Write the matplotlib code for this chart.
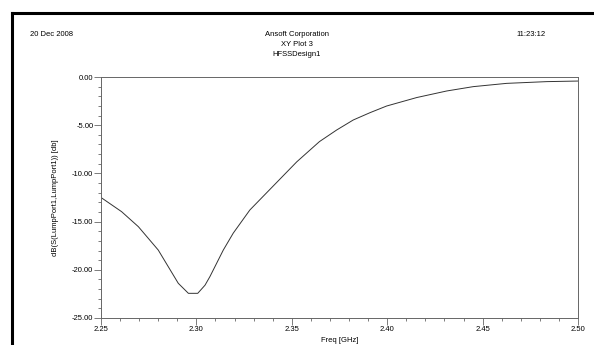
import numpy as np
import matplotlib.pyplot as plt
from matplotlib.ticker import MultipleLocator, FormatStrFormatter
from matplotlib.lines import Line2D

# S11
freq = [2.250, 2.2608, 2.2696, 2.280, 2.2905, 2.2958, 2.3007, 2.3045, 2.3071,
        2.3141, 2.3193, 2.328, 2.3403, 2.3526, 2.3645, 2.3735, 2.3822, 2.391,
        2.3997, 2.4155, 2.4312, 2.4451, 2.4626, 2.4836, 2.500]
s11_db = [-12.5, -13.97, -15.53, -17.95, -21.4, -22.44, -22.44, -21.6, -20.7,
          -17.95, -16.2, -13.8, -11.3, -8.8, -6.7, -5.5, -4.46, -3.7,
          -3.01, -2.13, -1.45, -1.0, -0.66, -0.48, -0.42]

plt.rcParams['font.family'] = ['Liberation Sans', 'DejaVu Sans']
fs = 5.5

fig = plt.figure(figsize=(5.94, 3.45), dpi=100)
ax = fig.add_axes([101 / 594, 1 - 318 / 345, 477 / 594, 241 / 345])

ax.plot(freq, s11_db, color='#333333', lw=0.7)
ax.set_xlim(2.25, 2.50)
ax.set_ylim(-25, 0)

ax.xaxis.set_major_locator(MultipleLocator(0.05))
ax.xaxis.set_minor_locator(MultipleLocator(0.01))
ax.yaxis.set_major_locator(MultipleLocator(5))
ax.yaxis.set_minor_locator(MultipleLocator(1))
ax.xaxis.set_major_formatter(FormatStrFormatter('%.2f'))
ax.yaxis.set_major_formatter(FormatStrFormatter('%.2f'))
ax.tick_params(which='major', direction='out', length=5, width=0.6,
               color='#666666', labelsize=fs, pad=0.5)
ax.tick_params(which='minor', direction='out', length=2, width=0.6,
               color='#666666')
for s in ax.spines.values():
    s.set_color('#666666')
    s.set_linewidth(0.7)

ax.set_xlabel('Freq [GHz]', fontsize=fs, labelpad=3)
ax.set_ylabel('dB(S(LumpPort1,LumpPort1)) [db]', fontsize=fs, labelpad=9)

# header texts
fig.text(30 / 594, 1 - 35 / 345, '20 Dec 2008', fontsize=fs, va='center', ha='left')
fig.text(297 / 594, 1 - 35 / 345, 'Ansoft Corporation', fontsize=fs, va='center', ha='center')
fig.text(297 / 594, 1 - 44 / 345, 'XY Plot 3', fontsize=fs, va='center', ha='center')
fig.text(297 / 594, 1 - 54 / 345, 'HFSSDesign1', fontsize=fs, va='center', ha='center')
fig.text(546 / 594, 1 - 35 / 345, '11:23:12', fontsize=fs, va='center', ha='right')

# outer page frame (only left and top edges are visible)
fig.add_artist(Line2D([12 / 594, 12 / 594], [0, 1 - 13 / 345], color='black', lw=2.2,
                      transform=fig.transFigure))
fig.add_artist(Line2D([12 / 594, 1], [1 - 13 / 345, 1 - 13 / 345], color='black', lw=2.2,
                      transform=fig.transFigure))

fig.savefig('out.png', dpi=100)
